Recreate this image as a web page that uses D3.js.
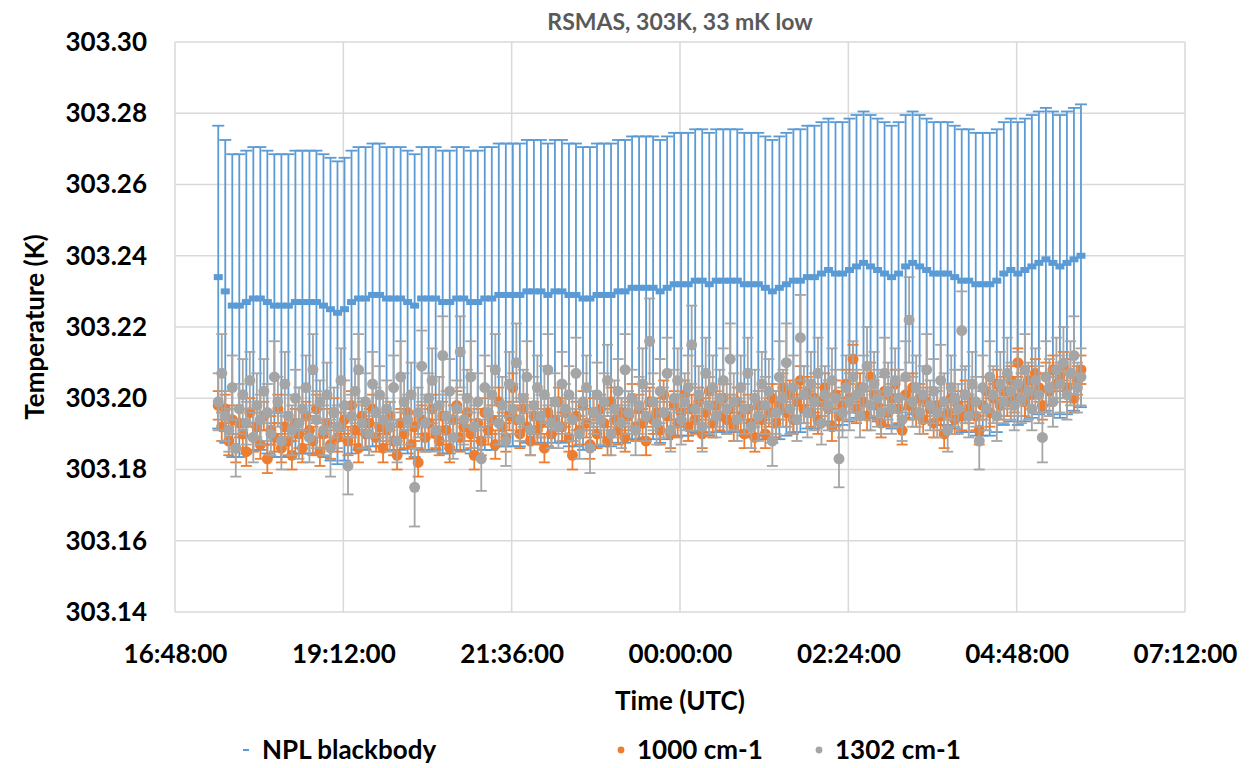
<!DOCTYPE html>
<html>
<head>
<meta charset="utf-8">
<script src="https://cdn.jsdelivr.net/npm/d3@7"></script>
<style>
  body { margin: 0; background: #fff; }
  text { font-family: Lato, "Open Sans", sans-serif; font-weight: bold; }
</style>
</head>
<body>
<div class="chart"></div>
<script>
// x tick labels (day rolls over at midnight)
var xTickLabels = ["16:48:00", "19:12:00", "21:36:00", "00:00:00", "02:24:00", "04:48:00", "07:12:00"];
var yTicks = [303.14, 303.16, 303.18, 303.20, 303.22, 303.24, 303.26, 303.28, 303.30];

var seriesNames = ["NPL blackbody", "1000 cm-1", "1302 cm-1"];

// NPL blackbody, one reading every 6 minutes from 17:25
var nplStart = "17:25:00";
var nplStepMin = 6;
var nplValues = [
  303.234,303.230,303.226,303.226,303.227,303.228,303.228,303.227,303.226,303.226,303.226,303.227,
  303.227,303.227,303.227,303.226,303.225,303.224,303.225,303.227,303.228,303.228,303.229,303.229,
  303.228,303.228,303.228,303.227,303.226,303.228,303.228,303.228,303.227,303.227,303.228,303.228,
  303.227,303.227,303.228,303.228,303.229,303.229,303.229,303.229,303.230,303.230,303.230,303.229,
  303.230,303.230,303.229,303.229,303.228,303.228,303.229,303.229,303.229,303.230,303.230,303.231,
  303.231,303.231,303.231,303.230,303.231,303.232,303.232,303.232,303.233,303.233,303.232,303.233,
  303.233,303.233,303.233,303.232,303.232,303.232,303.231,303.230,303.231,303.232,303.233,303.233,
  303.234,303.234,303.235,303.236,303.235,303.235,303.236,303.237,303.238,303.237,303.236,303.235,
  303.234,303.235,303.237,303.238,303.237,303.236,303.235,303.235,303.235,303.234,303.233,303.233,
  303.232,303.232,303.232,303.233,303.235,303.236,303.235,303.236,303.237,303.238,303.239,303.238,
  303.237,303.238,303.239,303.240
];
var nplErr = 0.0425;

// radiometer channels, one reading every 3 minutes from 17:25
var chanStart = "17:25:00";
var chanStepMin = 3;
var orangeValues = [
  303.198,303.192,303.197,303.188,303.194,303.186,303.193,303.190,303.185,303.196,303.189,303.192,
  303.187,303.195,303.183,303.191,303.189,303.197,303.186,303.192,303.188,303.184,303.193,303.190,
  303.186,303.195,303.191,303.188,303.197,303.185,303.190,303.193,303.187,303.196,303.189,303.192,
  303.194,303.188,303.198,303.191,303.186,303.195,303.190,303.193,303.197,303.189,303.192,303.186,
  303.191,303.195,303.188,303.184,303.193,303.190,303.196,303.187,303.192,303.182,303.194,303.189,
  303.193,303.197,303.190,303.188,303.195,303.191,303.186,303.194,303.198,303.189,303.192,303.196,
  303.190,303.184,303.193,303.188,303.196,303.191,303.194,303.187,303.199,303.192,303.189,303.195,
  303.203,303.194,303.190,303.197,303.192,303.188,303.195,303.191,303.193,303.186,303.196,303.190,
  303.194,303.199,303.192,303.196,303.189,303.184,303.195,303.191,303.198,303.193,303.187,303.196,
  303.190,303.197,303.193,303.188,303.199,303.194,303.191,303.196,303.189,303.195,303.200,303.192,
  303.197,303.193,303.188,303.199,303.194,303.196,303.191,303.201,303.195,303.190,303.198,303.193,
  303.196,303.201,303.192,303.197,303.194,303.199,303.190,303.196,303.202,303.193,303.198,303.195,
  303.200,303.194,303.197,303.192,303.199,303.195,303.190,303.197,303.193,303.189,303.198,303.194,
  303.190,303.196,303.200,303.193,303.198,303.203,303.196,303.201,303.194,303.199,303.205,303.197,
  303.202,303.196,303.200,303.194,303.199,303.203,303.197,303.192,303.201,303.195,303.198,303.204,
  303.200,303.211,303.197,303.203,303.199,303.195,303.206,303.201,303.198,303.193,303.202,303.196,
  303.200,303.204,303.197,303.191,303.201,303.198,303.203,303.196,303.200,303.194,303.199,303.197,
  303.193,303.198,303.195,303.190,303.196,303.200,303.194,303.198,303.195,303.201,303.197,303.199,
  303.195,303.191,303.198,303.202,303.196,303.200,303.204,303.198,303.202,303.199,303.205,303.200,
  303.210,303.203,303.199,303.205,303.201,303.207,303.203,303.198,303.206,303.202,303.208,303.204,
  303.206,303.209,303.203,303.207,303.200,303.205,303.208
];
var orangeErr = 0.004;

var grayValues = [
  303.199,303.207,303.195,303.191,303.203,303.186,303.197,303.201,303.193,303.205,303.189,303.198,
  303.194,303.202,303.196,303.190,303.206,303.199,303.188,303.204,303.195,303.191,303.200,303.193,
  303.197,303.203,303.189,303.208,303.194,303.199,303.191,303.201,303.186,303.196,303.192,303.205,
  303.198,303.181,303.195,303.202,303.208,303.193,303.199,303.190,303.204,303.196,303.201,303.194,
  303.197,303.192,303.203,303.188,303.206,303.199,303.194,303.201,303.175,303.196,303.209,303.193,
  303.200,303.205,303.191,303.198,303.212,303.195,303.202,303.189,303.197,303.213,303.194,303.200,
  303.206,303.192,303.199,303.183,303.203,303.196,303.201,303.208,303.193,303.198,303.188,303.204,
  303.197,303.210,303.194,303.200,303.206,303.191,303.198,303.203,303.195,303.201,303.208,303.193,
  303.199,303.192,303.204,303.197,303.201,303.194,303.207,303.190,303.199,303.203,303.186,303.196,
  303.201,303.194,303.199,303.205,303.190,303.197,303.202,303.193,303.208,303.196,303.200,303.191,
  303.198,303.204,303.195,303.216,303.199,303.193,303.202,303.196,303.207,303.191,303.200,303.205,
  303.194,303.199,303.203,303.215,303.197,303.201,303.192,303.207,303.198,303.203,303.195,303.200,
  303.205,303.197,303.211,303.199,303.194,303.203,303.197,303.207,303.192,303.200,303.195,303.204,
  303.198,303.202,303.188,303.196,303.206,303.200,303.210,303.197,303.203,303.194,303.217,303.201,
  303.196,303.204,303.199,303.207,303.193,303.201,303.198,303.205,303.200,303.183,303.196,303.203,
  303.199,303.206,303.201,303.195,303.203,303.209,303.198,303.204,303.200,303.196,303.207,303.202,
  303.197,303.205,303.200,303.194,303.206,303.222,303.199,303.203,303.196,303.201,303.208,303.198,
  303.202,303.196,303.205,303.199,303.191,303.203,303.200,303.197,303.219,303.201,303.195,303.204,
  303.199,303.188,303.203,303.197,303.206,303.201,303.195,303.204,303.199,303.207,303.202,303.198,
  303.204,303.200,303.208,303.202,303.197,303.205,303.201,303.189,303.206,303.203,303.199,303.208,
  303.204,303.210,303.201,303.207,303.212,303.203,303.206
];
var grayErr = [
  0.008,0.011,0.007,0.006,0.009,0.008,0.007,0.010,0.006,0.008,0.007,0.009,
  0.007,0.009,0.008,0.006,0.010,0.007,0.008,0.009,0.006,0.007,0.008,0.010,
  0.006,0.009,0.007,0.010,0.008,0.006,0.007,0.009,0.008,0.007,0.006,0.009,
  0.007,0.008,0.006,0.009,0.010,0.007,0.008,0.006,0.009,0.007,0.008,0.006,
  0.008,0.007,0.009,0.006,0.010,0.008,0.007,0.009,0.011,0.007,0.010,0.008,
  0.007,0.009,0.006,0.008,0.011,0.007,0.009,0.006,0.008,0.010,0.007,0.008,
  0.010,0.006,0.008,0.009,0.009,0.007,0.008,0.010,0.006,0.008,0.007,0.009,
  0.007,0.011,0.006,0.008,0.010,0.007,0.008,0.009,0.006,0.008,0.010,0.007,
  0.008,0.006,0.009,0.007,0.008,0.006,0.010,0.007,0.008,0.009,0.007,0.006,
  0.009,0.007,0.008,0.010,0.006,0.008,0.009,0.007,0.010,0.006,0.008,0.007,
  0.008,0.010,0.007,0.012,0.008,0.006,0.009,0.007,0.010,0.006,0.008,0.009,
  0.007,0.008,0.009,0.011,0.006,0.008,0.007,0.010,0.008,0.009,0.006,0.008,
  0.009,0.007,0.010,0.008,0.006,0.009,0.007,0.010,0.006,0.008,0.007,0.009,
  0.008,0.009,0.007,0.006,0.010,0.008,0.011,0.007,0.009,0.006,0.012,0.008,
  0.007,0.009,0.008,0.010,0.006,0.008,0.007,0.009,0.008,0.008,0.007,0.009,
  0.008,0.010,0.007,0.006,0.009,0.011,0.007,0.009,0.008,0.006,0.010,0.008,
  0.007,0.009,0.008,0.006,0.010,0.012,0.007,0.009,0.006,0.008,0.010,0.007,
  0.009,0.007,0.010,0.008,0.006,0.009,0.008,0.007,0.011,0.008,0.006,0.009,
  0.007,0.008,0.009,0.006,0.010,0.008,0.007,0.009,0.006,0.010,0.008,0.007,
  0.009,0.007,0.010,0.008,0.006,0.009,0.008,0.007,0.010,0.008,0.007,0.009,
  0.008,0.010,0.007,0.009,0.011,0.007,0.008
];

var blue = "#5B9BD5", orange = "#ED7D31", gray = "#A5A5A5";

// turn "HH:MM:SS" into a date, times before noon belong to the next day
function toTime(s) {
  var p = s.split(":").map(Number);
  var day = p[0] < 12 ? 2 : 1;
  return new Date(Date.UTC(2020, 0, day, p[0], p[1], p[2]));
}

function seriesData(start, step, values, err) {
  var t0 = toTime(start);
  return values.map(function (v, i) {
    return {
      t: new Date(t0.getTime() + i * step * 60000),
      v: v,
      e: Array.isArray(err) ? err[i] : err
    };
  });
}

var svgWidth = 1255, svgHeight = 768;
var margin = { top: 42, right: 70, bottom: 156, left: 175 };
var width = svgWidth - margin.left - margin.right;
var height = svgHeight - margin.top - margin.bottom;

var svg = d3.select(".chart")
  .append("svg")
  .attr("width", svgWidth)
  .attr("height", svgHeight)
  .style("background", "#fff");

var chartGroup = svg.append("g")
  .attr("transform", `translate(${margin.left}, ${margin.top})`);

var xTicks = xTickLabels.map(toTime);

var xScale = d3.scaleTime()
  .domain([xTicks[0], xTicks[xTicks.length - 1]])
  .range([0, width]);

var yScale = d3.scaleLinear()
  .domain([303.14, 303.30])
  .range([height, 0]);

// gridlines
chartGroup.append("g")
  .selectAll("line")
  .data(yTicks)
  .enter()
  .append("line")
  .attr("x1", 0)
  .attr("x2", width)
  .attr("y1", d => yScale(d))
  .attr("y2", d => yScale(d))
  .attr("stroke", "#d9d9d9")
  .attr("stroke-width", 1.5);

chartGroup.append("g")
  .selectAll("line")
  .data(xTicks)
  .enter()
  .append("line")
  .attr("x1", d => xScale(d))
  .attr("x2", d => xScale(d))
  .attr("y1", 0)
  .attr("y2", height)
  .attr("stroke", "#d9d9d9")
  .attr("stroke-width", 1.5);

// axes
var yAxis = d3.axisLeft(yScale)
  .tickValues(yTicks)
  .tickFormat(d3.format(".2f"))
  .tickSize(0)
  .tickPadding(28);

var xAxis = d3.axisBottom(xScale)
  .tickValues(xTicks)
  .tickFormat(d3.utcFormat("%H:%M:%S"))
  .tickSize(0)
  .tickPadding(33);

var yAxisG = chartGroup.append("g").call(yAxis);
var xAxisG = chartGroup.append("g")
  .attr("transform", `translate(0, ${height})`)
  .call(xAxis);

[yAxisG, xAxisG].forEach(function (g) {
  g.select(".domain").remove();
  g.selectAll("text")
    .attr("fill", "#000")
    .style("font-size", "26px")
    .style("font-family", "Lato, sans-serif")
    .style("font-weight", "bold");
});

// error bars + markers for one series
function drawErrorBars(data, color, capW, sw) {
  var g = chartGroup.append("g");
  g.selectAll(".stem")
    .data(data)
    .enter()
    .append("line")
    .attr("x1", d => xScale(d.t))
    .attr("x2", d => xScale(d.t))
    .attr("y1", d => yScale(d.v - d.e))
    .attr("y2", d => yScale(d.v + d.e))
    .attr("stroke", color)
    .attr("stroke-width", sw);
  [-1, 1].forEach(function (s) {
    g.selectAll(".cap" + s)
      .data(data)
      .enter()
      .append("line")
      .attr("x1", d => xScale(d.t) - capW / 2)
      .attr("x2", d => xScale(d.t) + capW / 2)
      .attr("y1", d => yScale(d.v + s * d.e))
      .attr("y2", d => yScale(d.v + s * d.e))
      .attr("stroke", color)
      .attr("stroke-width", sw);
  });
}

var nplData = seriesData(nplStart, nplStepMin, nplValues, nplErr);
var orangeData = seriesData(chanStart, chanStepMin, orangeValues, orangeErr);
var grayData = seriesData(chanStart, chanStepMin, grayValues, grayErr);

// blackbody: error bars and dash markers
drawErrorBars(nplData, blue, 12, 1.8);
chartGroup.append("g")
  .selectAll("rect")
  .data(nplData)
  .enter()
  .append("rect")
  .attr("x", d => xScale(d.t) - 4.5)
  .attr("y", d => yScale(d.v) - 3)
  .attr("width", 9)
  .attr("height", 6)
  .attr("fill", blue);

// 1000 cm-1
drawErrorBars(orangeData, orange, 11, 1.8);
chartGroup.append("g")
  .selectAll("circle")
  .data(orangeData)
  .enter()
  .append("circle")
  .attr("cx", d => xScale(d.t))
  .attr("cy", d => yScale(d.v))
  .attr("r", 5.5)
  .attr("fill", orange);

// 1302 cm-1
drawErrorBars(grayData, gray, 11, 1.8);
chartGroup.append("g")
  .selectAll("circle")
  .data(grayData)
  .enter()
  .append("circle")
  .attr("cx", d => xScale(d.t))
  .attr("cy", d => yScale(d.v))
  .attr("r", 5.5)
  .attr("fill", gray);

// titles
svg.append("text")
  .attr("x", margin.left + width / 2)
  .attr("y", 30)
  .attr("text-anchor", "middle")
  .attr("fill", "#595959")
  .style("font-size", "23px")
  .text("RSMAS, 303K, 33 mK low");

svg.append("text")
  .attr("x", margin.left + width / 2)
  .attr("y", 710)
  .attr("text-anchor", "middle")
  .attr("fill", "#000")
  .style("font-size", "26px")
  .text("Time (UTC)");

svg.append("text")
  .attr("transform", `translate(44, ${margin.top + height / 2}) rotate(-90)`)
  .attr("text-anchor", "middle")
  .attr("fill", "#000")
  .style("font-size", "26px")
  .text("Temperature (K)");

// legend
var legend = svg.append("g");
var legendItems = [
  { name: seriesNames[0], color: blue, x: 246, dash: true },
  { name: seriesNames[1], color: orange, x: 621, dash: false },
  { name: seriesNames[2], color: gray, x: 819, dash: false }
];
legendItems.forEach(function (d) {
  if (d.dash) {
    legend.append("rect")
      .attr("x", d.x - 3).attr("y", 749)
      .attr("width", 6).attr("height", 2)
      .attr("fill", d.color);
  } else {
    legend.append("circle")
      .attr("cx", d.x).attr("cy", 750)
      .attr("r", 3.4)
      .attr("fill", d.color);
  }
  legend.append("text")
    .attr("x", d.x + 16)
    .attr("y", 759)
    .attr("fill", "#000")
    .style("font-size", "26px")
    .text(d.name);
});
</script>
</body>
</html>
